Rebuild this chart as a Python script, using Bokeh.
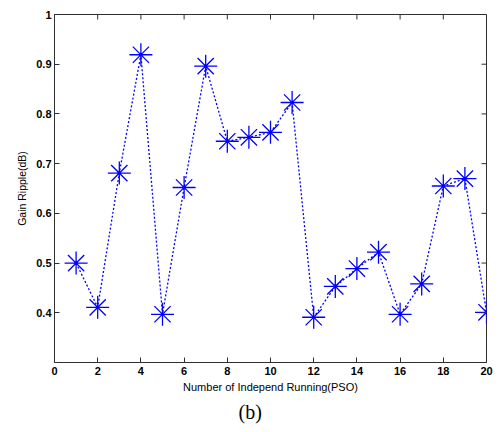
import math
from bokeh.plotting import figure
from bokeh.models import FixedTicker, Range1d, Title
from bokeh.embed import file_html
from bokeh.resources import INLINE

runs = list(range(1, 21))
ripple = [0.500, 0.411, 0.681, 0.919, 0.397, 0.652, 0.896, 0.745, 0.753, 0.763,
          0.823, 0.391, 0.453, 0.489, 0.522, 0.397, 0.458, 0.655, 0.670, 0.401]

x_ticks = [0, 2, 4, 6, 8, 10, 12, 14, 16, 18, 20]
y_ticks = [0.4, 0.5, 0.6, 0.7, 0.8, 0.9, 1.0]
y_tick_labels = ["0.4", "0.5", "0.6", "0.7", "0.8", "0.9", "1"]
x_min, x_max = 0, 20
y_min, y_max = 0.3, 1.0

x_label = "Number of Independ Running(PSO)"
y_label = "Gain Ripple(dB)"
caption = "(b)"

AX = "#303030"
BLUE = "#0000ff"

p = figure(width=500, height=432, output_backend="svg", toolbar_location=None,
           x_range=Range1d(x_min, x_max), y_range=Range1d(y_min, y_max),
           min_border_left=54, min_border_right=14, min_border_top=14,
           min_border_bottom=70)
p.xgrid.visible = False
p.ygrid.visible = False
p.outline_line_color = AX
p.outline_line_width = 1
p.background_fill_color = "white"
p.border_fill_color = "white"

p.line(runs, ripple, line_color=BLUE, line_width=1.3, line_dash="2 2")
p.scatter(runs, ripple, marker="asterisk", size=23, line_color=BLUE, line_width=1.3)
p.scatter(runs, ripple, marker="circle", size=3, fill_color=BLUE, line_color=None)

# inward tick marks on the top and right edges of the box
p.scatter(x_ticks, [y_max] * len(x_ticks), marker="dash", size=10, angle=math.pi / 2,
          line_color=AX, line_width=1)
p.scatter([x_max] * len(y_ticks), y_ticks, marker="dash", size=10,
          line_color=AX, line_width=1)

def style(ax):
    ax.axis_line_color = AX
    ax.major_tick_line_color = AX
    ax.major_tick_in = 5
    ax.major_tick_out = 0
    ax.minor_tick_line_color = None
    ax.major_label_text_font = "Liberation Sans"
    ax.major_label_text_font_style = "bold"
    ax.major_label_text_font_size = "11px"
    ax.major_label_text_color = "black"
    ax.axis_label_text_font = "Liberation Sans"
    ax.axis_label_text_font_style = "normal"
    ax.axis_label_text_font_size = "11px"
    ax.axis_label_text_color = "black"

xa = p.xaxis[0]
xa.ticker = FixedTicker(ticks=x_ticks)
style(xa)
xa.major_label_standoff = 4
xa.axis_label = x_label
xa.axis_label_standoff = 3

ya = p.yaxis[0]
ya.ticker = FixedTicker(ticks=y_ticks)
style(ya)
ya.major_label_overrides = {t: s for t, s in zip(y_ticks, y_tick_labels)}
ya.major_label_standoff = 3
ya.axis_label = y_label
ya.axis_label_text_font_size = "10.5px"
ya.axis_label_standoff = 5

t = Title(text=caption, align="left", text_font="Liberation Serif",
          text_font_size="20px", text_font_style="normal", text_color="black",
          standoff=6, offset=184)
p.add_layout(t, "below")

open("out.html", "w").write(file_html(p, INLINE))
